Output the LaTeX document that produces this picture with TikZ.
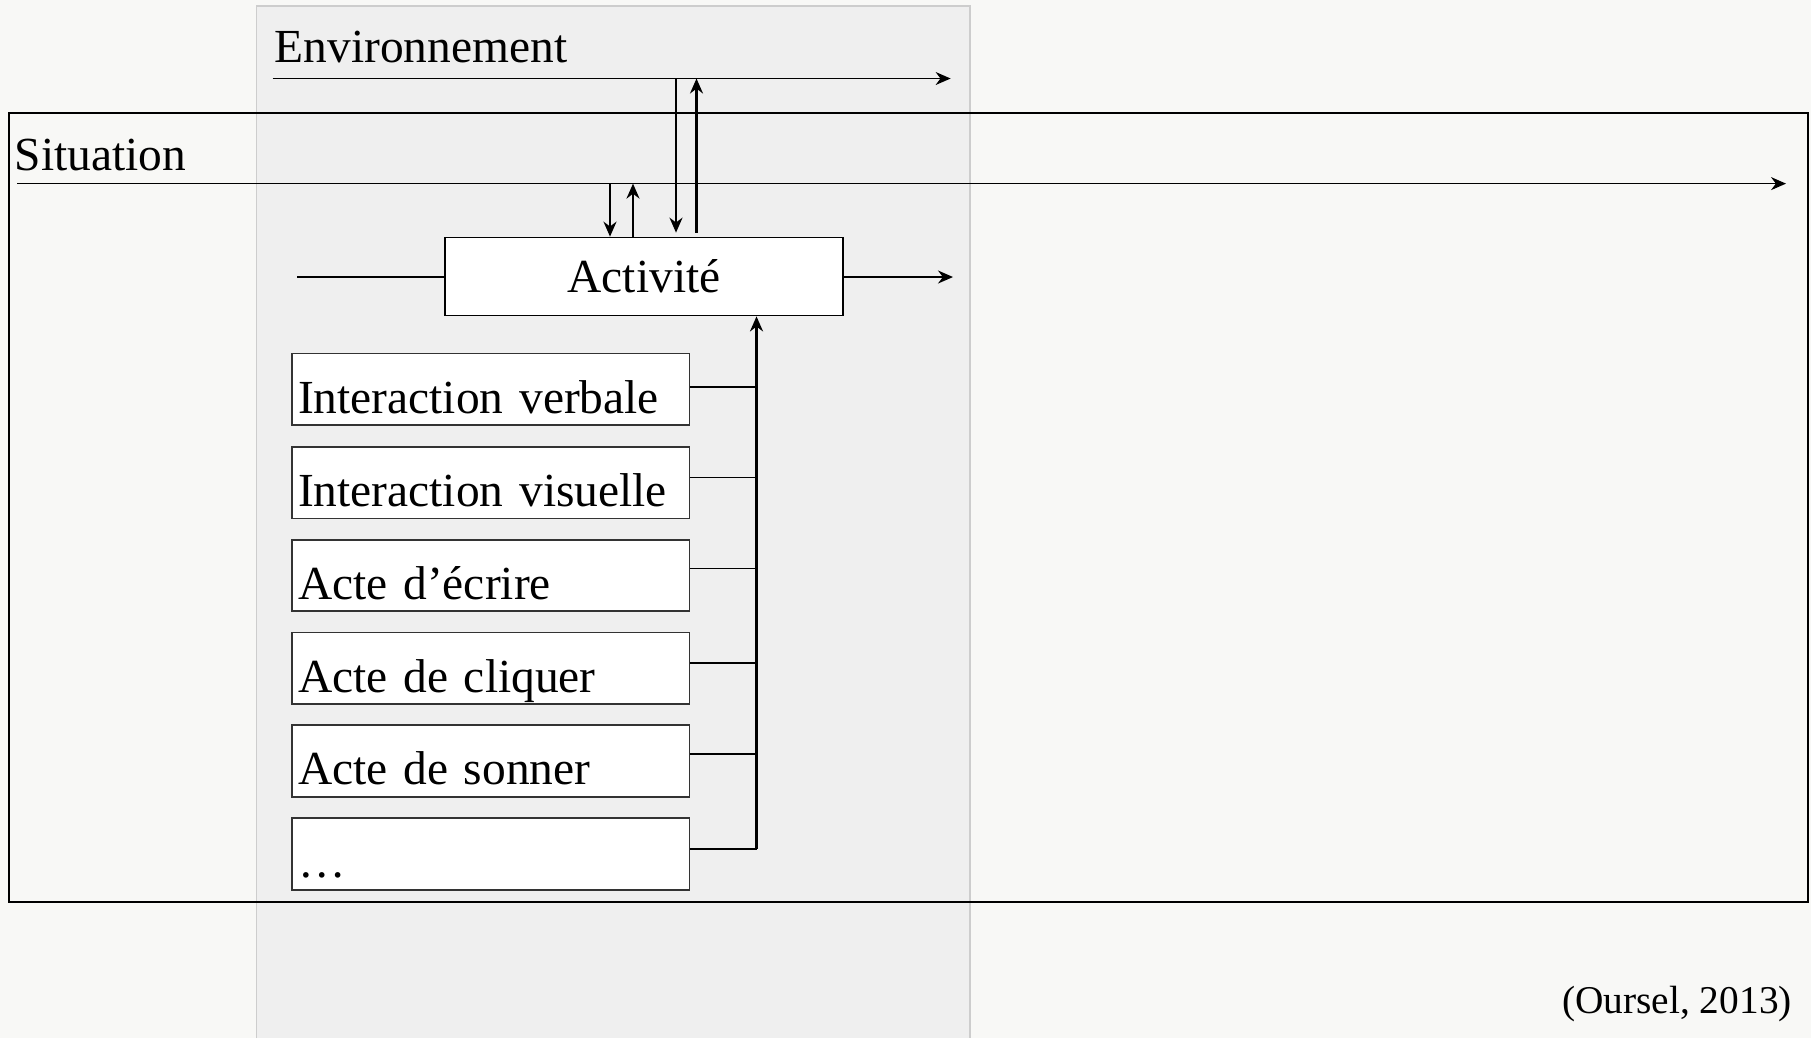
\documentclass[tikz,border=0pt]{standalone}
\usepackage{fontspec}
\setmainfont{Liberation Serif}
\usepackage{tikz}
\usetikzlibrary{arrows.meta,positioning,calc}
\definecolor{paperbg}{RGB}{248,248,246}
\definecolor{envgray}{RGB}{239,239,239}
\definecolor{envedge}{RGB}{205,205,205}
\tikzset{
  actbox/.style={rectangle, draw=black, fill=white, line width=0.5pt, minimum width=3.98cm, minimum height=0.78cm, inner sep=0pt, font=\fontsize{13.5}{16}\selectfont},
  modebox/.style={rectangle, draw=black!80, fill=white, line width=0.5pt, inner xsep=0.06cm, inner ysep=0pt, text width=3.855cm, align=left, text height=0.596cm, text depth=0.12cm, font=\fontsize{13.5}{16}\selectfont},
  flow/.style={-{Stealth[length=1.5mm,width=1.3mm]}, line width=0.6pt},
  link/.style={line width=0.5pt},
  ctxlabel/.style={font=\fontsize{13.5}{16}\selectfont, inner sep=0pt, anchor=base west}
}

\begin{document}
\begin{tikzpicture}
  \useasboundingbox[fill=paperbg] (0,0) rectangle (18.11,-10.38);

  % environment column
  \fill[envgray, draw=envedge, line width=0.4pt] (2.564,-10.38) -- (2.564,-0.058) -- (9.70,-0.058) -- (9.70,-10.38);
  \node[ctxlabel] (envlabel) at (2.74,-0.625) {Environnement};
  \coordinate (envstart) at (2.726,-0.785);
  \coordinate (envend) at (9.506,-0.785);
  \draw[flow, line width=0.4pt] (envstart) -- (envend);

  % situation frame
  \draw[line width=0.5pt] (0.092,-1.13) rectangle (18.08,-9.02);
  \node[ctxlabel] (sitlabel) at (0.14,-1.705) {Situation};
  \coordinate (sitstart) at (0.17,-1.836);
  \coordinate (sitend) at (17.86,-1.836);
  \draw[flow, line width=0.5pt] (sitstart) -- (sitend);

  % activity
  \node[actbox] (act) at (6.44,-2.765) {Activité};
  \coordinate (actin) at (2.97,-2.77);
  \coordinate (actout) at (9.53,-2.77);
  \draw[link] (actin) -- (actin -| act.west);
  \draw[flow, line width=0.5pt] (actout -| act.east) -- (actout);

  % exchanges with situation and environment
  \coordinate (sitdown) at (6.10,-1.836);
  \coordinate (situp) at (6.33,-1.836);
  \coordinate (envdown) at (6.76,-0.785);
  \coordinate (envup) at (6.965,-0.785);
  \draw[flow] (sitdown) -- (sitdown |- act.north);
  \draw[flow] (situp |- act.north) -- (situp);
  \draw[flow] (envdown) -- ([yshift=0.04cm]envdown |- act.north);
  \draw[flow] ([yshift=0.04cm]envup |- act.north) -- (envup);

  % modes of interaction
  \node[modebox] (verbal) at (4.9075,-3.892) {Interaction verbale};
  \node[modebox, below=0.2cm of verbal] (visual) {Interaction visuelle};
  \node[modebox, below=0.195cm of visual] (write) {Acte d’écrire};
  \node[modebox, below=0.195cm of write] (click) {Acte de cliquer};
  \node[modebox, below=0.195cm of click] (ring) {Acte de sonner};
  \node[modebox, below=0.195cm of ring] (more) {\dots};

  \coordinate (bus) at (7.565,-5);
  \draw[link] ([yshift=0.02cm]verbal.east) -- ([yshift=0.02cm]verbal.east -| bus);
  \draw[link] ([yshift=0.05cm]visual.east) -- ([yshift=0.05cm]visual.east -| bus);
  \draw[link] ([yshift=0.07cm]write.east) -- ([yshift=0.07cm]write.east -| bus);
  \draw[link] ([yshift=0.05cm]click.east) -- ([yshift=0.05cm]click.east -| bus);
  \draw[link] ([yshift=0.07cm]ring.east) -- ([yshift=0.07cm]ring.east -| bus);
  \draw[link] ([yshift=0.05cm]more.east) -- ([yshift=0.05cm]more.east -| bus);
  \draw[flow, line width=0.8pt] ([yshift=0.05cm]more.east -| bus) -- (bus |- act.south);

  \node[font=\fontsize{11.2}{13}\selectfont, inner sep=0pt, anchor=base east] (source) at (17.925,-10.13) {(Oursel, 2013)};
\end{tikzpicture}
\end{document}
